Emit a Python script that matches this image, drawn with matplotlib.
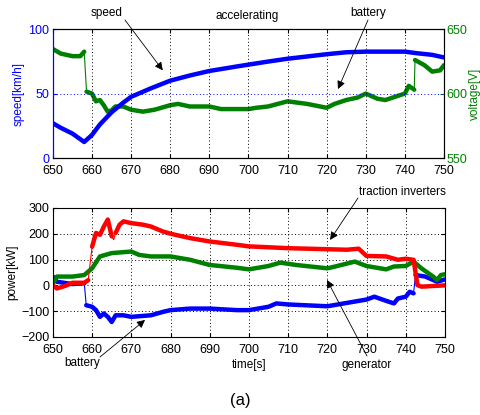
import numpy as np
import matplotlib
matplotlib.use('Agg')
import matplotlib.pyplot as plt

plt.rcParams['font.family'] = ['Liberation Sans', 'DejaVu Sans']
plt.rcParams['font.size'] = 8

# top: speed and battery voltage
speed_t = [650, 652, 655, 658, 660, 662, 665, 668, 670, 675, 680, 685, 690, 697,
           705, 710, 720, 725, 730, 740, 743, 747, 750]
speed = [27, 23.5, 19, 12.5, 18, 26, 35.5, 43, 47.5, 54, 60, 64, 67.5, 71,
         74.8, 77, 80.5, 82, 82.5, 82.5, 81.3, 80, 78]

volt_t = [650, 652, 655, 657, 658, 658.6, 660, 661, 662, 663, 664, 665, 666, 668,
          670, 673, 676, 680, 682, 685, 690, 693, 697, 700, 702, 705, 710, 715,
          720, 722, 725, 728, 730, 733, 735, 737, 740, 741, 742.4, 742.6, 745,
          747, 749, 750]
volt = [634.5, 631, 629, 629, 632.5, 601.5, 600, 594, 595, 591, 586, 587, 590, 590,
        587.5, 586, 587.5, 591, 592, 590, 590, 588, 588, 588, 589, 590, 594, 592,
        589, 592, 595, 597, 600, 596, 595, 597, 600, 606, 603, 626, 622,
        617, 618, 622]

# bottom: power
inv_t = [650, 651, 653, 655, 658, 659, 659.5, 660, 661, 662, 663, 664, 665, 665.5,
         666, 667, 668, 670, 673, 675, 678, 680, 685, 690, 697, 700, 710, 720,
         725, 728, 730, 735, 738, 740, 742, 743, 744, 750]
inv = [0, -12, -3, 10, 10, 20, 86, 150, 203, 196, 228, 255, 190, 177,
       203, 235, 248, 241, 235, 228, 209, 200, 183, 170, 157, 151, 144, 140,
       138, 142, 114, 112, 99, 103, 99, 1, -5, 0]

gen_t = [650, 651, 655, 658, 660, 662, 665, 670, 672, 675, 680, 685, 690, 697,
         700, 705, 708, 712, 720, 722, 727, 730, 735, 737, 740, 742, 744, 747,
         748, 749, 750]
gen = [8, 34, 34, 40, 66, 112, 125, 131, 118, 112, 112, 99, 79, 68,
       62, 75, 88, 79, 66, 73, 92, 75, 62, 73, 75, 92, 66, 34,
       21, 40, 43]

bat_t = [650, 651, 655, 658, 658.5, 660, 661, 662, 663, 664, 665, 666, 668, 670,
         675, 678, 680, 685, 690, 697, 700, 705, 707, 710, 720, 725, 730, 732,
         735, 737, 738, 740, 741, 742, 742.5, 745, 748, 750]
bat = [34, 14, 5, 8, -77, -83, -96, -122, -109, -122, -142, -116, -116, -122,
       -116, -103, -96, -90, -90, -96, -96, -83, -70, -74, -81, -68, -55, -44,
       -60, -70, -51, -44, -25, -31, 40, 34, 14, 23]

BLUE = '#0000ff'
GREEN = '#008000'
RED = '#ff0000'


def thick_line(ax, t, y, color):
    # thin line through everything, thick band broken at the sudden jumps
    t = np.asarray(t, float)
    y = np.asarray(y, float)
    ax.plot(t, y, color=color, lw=0.8)
    tt, yy = [t[0]], [y[0]]
    for i in range(1, len(t)):
        if t[i] - t[i - 1] < 0.7:
            tt.append(np.nan)
            yy.append(np.nan)
        tt.append(t[i])
        yy.append(y[i])
    ax.plot(tt, yy, color=color, lw=3.2, solid_capstyle='round', solid_joinstyle='round')


def style(ax):
    ax.tick_params(direction='in', length=3, top=True, labelsize=9, pad=2.5)
    ax.tick_params(axis='x', pad=5)
    ax.set_xlim(650, 750)
    ax.set_xticks(np.arange(650, 751, 10))


fig = plt.figure(figsize=(4.81, 4.15), dpi=100)

ax1 = fig.add_axes([0.110, 0.619, 0.813, 0.311])
ax2 = ax1.twinx()
thick_line(ax2, volt_t, volt, GREEN)
thick_line(ax1, speed_t, speed, BLUE)
ax1.set_zorder(ax2.get_zorder() + 1)
ax1.patch.set_visible(False)
style(ax1)
ax1.set_ylim(0, 100)
ax1.set_yticks([0, 50, 100])
ax1.tick_params(axis='y', colors=BLUE, right=False)
ax1.spines['left'].set_color(BLUE)
ax1.set_ylabel('speed[km/h]', color=BLUE, labelpad=3, fontsize=8.5)
ax1.grid(True, axis='x', color='k', linestyle=(0, (1, 2.5)), lw=0.7)
ax1.grid(True, axis='y', color=BLUE, linestyle=(0, (1, 2.5)), lw=0.7)
ax2.set_ylim(550, 650)
ax2.set_yticks([550, 600, 650])
ax2.tick_params(axis='y', direction='in', length=3, colors=GREEN, labelsize=9, pad=2)
ax2.spines['right'].set_color(GREEN)
ax2.spines['left'].set_color(BLUE)
ax2.set_ylabel('voltage[V]', color=GREEN, labelpad=1, fontsize=8.5)

ax3 = fig.add_axes([0.110, 0.188, 0.815, 0.311])
thick_line(ax3, bat_t, bat, BLUE)
thick_line(ax3, gen_t, gen, GREEN)
thick_line(ax3, inv_t, inv, RED)
style(ax3)
ax3.tick_params(axis='y', right=True)
ax3.set_ylim(-200, 300)
ax3.set_yticks(np.arange(-200, 301, 100))
ax3.grid(True, color='k', linestyle=(0, (1, 2.5)), lw=0.7)
ax3.set_ylabel('power[kW]', labelpad=2, fontsize=8.5)
ax3.set_xlabel('time[s]', labelpad=2, fontsize=8.5)


def px(x, y):
    return (x / 481, 1 - y / 415)


arrow = dict(arrowstyle='-|>', lw=0.6, color='k', mutation_scale=12, shrinkA=0, shrinkB=0)

fig.text(*px(107, 13), 'speed', ha='center', va='center', fontsize=8.5)
ax1.annotate('', xy=(678.1, 68), xycoords='data', xytext=px(125, 20),
             textcoords='figure fraction', arrowprops=arrow)
fig.text(*px(247, 16), 'accelerating', ha='center', va='center', fontsize=8.5)
fig.text(*px(368, 13), 'battery', ha='center', va='center', fontsize=8.5)
ax1.annotate('', xy=(722.9, 53.5), xycoords='data', xytext=px(368, 20),
             textcoords='figure fraction', arrowprops=arrow)

fig.text(*px(402, 192), 'traction inverters', ha='center', va='center', fontsize=8.5)
ax3.annotate('', xy=(720.7, 176), xycoords='data', xytext=px(358, 198),
             textcoords='figure fraction', arrowprops=arrow)
fig.text(*px(367, 365), 'generator', ha='center', va='center', fontsize=8.5)
ax3.annotate('', xy=(719.9, 21), xycoords='data', xytext=px(367, 356),
             textcoords='figure fraction', arrowprops=arrow)
fig.text(*px(82, 363), 'battery', ha='center', va='center', fontsize=8.5)
ax3.annotate('', xy=(673.5, -134), xycoords='data', xytext=px(100, 357),
             textcoords='figure fraction', arrowprops=arrow)

fig.text(*px(240, 400), '(a)', ha='center', va='center', fontsize=12)

fig.savefig('out.png', dpi=100)
